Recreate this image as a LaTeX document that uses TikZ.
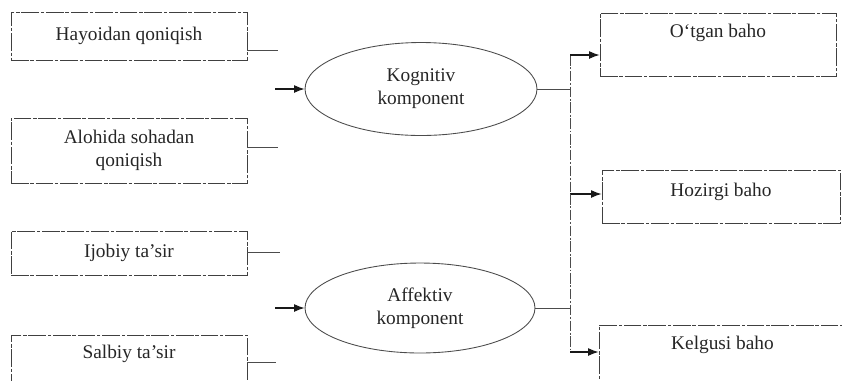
\documentclass[tikz,border=0pt]{standalone}
\usepackage{fontspec}
\setmainfont{Liberation Serif}
\usetikzlibrary{shapes.geometric,arrows.meta}

\tikzset{
  box/.style={draw=black!75,line width=0.5pt,dash pattern=on 10pt off 1pt on 2pt off 1pt,
    align=center,text=black!85,inner sep=2pt},
  comp/.style={ellipse,draw=black!70,line width=0.5pt,align=center,text=black!85,inner sep=0pt},
  link/.style={draw=black!70,line width=0.5pt},
  vlink/.style={link,dash pattern=on 6pt off 1pt on 1pt off 1pt},
  arr/.style={draw=black!90,line width=0.6pt,->}
}

\begin{document}
\begin{tikzpicture}[x=0.02cm,y=-0.02cm,>={Latex[length=6pt,width=4.5pt]},
  font=\fontsize{11}{13}\selectfont]
\useasboundingbox (0,0) rectangle (842,380);
% left boxes
\node[box,minimum width=4.72cm,minimum height=0.96cm] (l1) at (129,36) {Hayoidan qoniqish};
\node[box,minimum width=4.72cm,minimum height=1.3cm] (l2) at (129,150.5) {Alohida sohadan\\qoniqish};
\node[box,minimum width=4.72cm,minimum height=0.88cm] (l3) at (129,253) {Ijobiy ta’sir};
\node[box,minimum width=4.72cm,minimum height=1.1cm,text height=7.5pt,text depth=12pt] (l4) at (129,362.5) {Salbiy ta’sir};
% components
\node[comp,minimum width=4.64cm,minimum height=1.86cm] (e1) at (421,89) {Kognitiv\\komponent};
\node[comp,minimum width=4.6cm,minimum height=1.8cm] (e2) at (420,308) {Affektiv\\komponent};
% right boxes
\node[box,minimum width=4.72cm,minimum height=1.26cm,text height=7.5pt,text depth=15pt] (r1) at (718,44.5) {O‘tgan baho};
\node[box,minimum width=4.76cm,minimum height=1.06cm,text height=7.5pt,text depth=7.5pt] (r2) at (721,196.5) {Hozirgi baho};
\node[box,minimum width=4.94cm,minimum height=1.3cm,text height=7.5pt,text depth=16.5pt] (r3) at (722.5,357.5) {Kelgusi baho};

% stubs and inputs
\coordinate (s1) at (278,50);
\coordinate (s2) at (278,147);
\coordinate (s3) at (280,252);
\coordinate (s4) at (276,362);
\coordinate (a1) at (275,89);
\coordinate (a2) at (275,308);
\draw[link] (s1 -| l1.east) -- (s1);
\draw[link] (s2 -| l2.east) -- (s2);
\draw[link] (s3 -| l3.east) -- (s3);
\draw[link] (s4 -| l4.east) -- (s4);
\draw[arr] (a1) -- (e1.west);
\draw[arr] (a2) -- (e2.west);

% outputs
\coordinate (j1) at (570,55);
\coordinate (j2) at (570,194);
\coordinate (j3) at (570,352);
\draw[link] (e1.east) -- (e1.east -| j1);
\draw[vlink] (j1) -- (j2);
\draw[arr] (j1) -- (j1 -| r1.west);
\draw[arr] (j2) -- (j2 -| r2.west);
\draw[link] (e2.east) -- (e2.east -| j2);
\draw[vlink] (j2) -- (j3);
\draw[arr] (j3) -- (j3 -| r3.west);
\end{tikzpicture}
\end{document}
